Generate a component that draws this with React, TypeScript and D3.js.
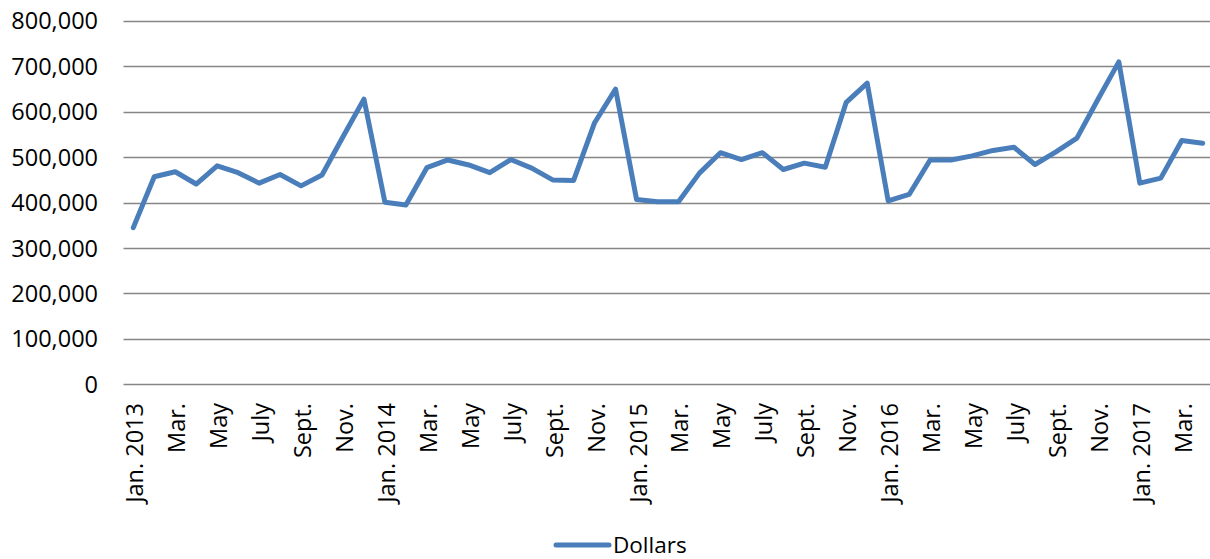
import * as d3 from "d3";
import { useEffect, useRef } from "react";

const monthNames = ["Jan.", "Feb.", "Mar.", "Apr.", "May", "June", "July", "Aug.", "Sept.", "Oct.", "Nov.", "Dec."];
const years = [2013, 2014, 2015, 2016, 2017];
const monthCount = 52; // Jan. 2013 - Apr. 2017

// monthly dollars
const dollars = [
  345000, 457000, 468000, 441000, 481000, 466000, 443000, 462000, 437000, 461000, 545000, 628000,
  401000, 395000, 477000, 494000, 483000, 466000, 495000, 476000, 450000, 449000, 576000, 650000,
  407000, 402000, 402000, 465000, 510000, 495000, 510000, 473000, 487000, 478000, 621000, 663000,
  404000, 418000, 494000, 494000, 503000, 515000, 522000, 484000, 512000, 542000, 627000, 710000,
  443000, 454000, 537000, 531000,
];

const yTicks = [0, 100000, 200000, 300000, 400000, 500000, 600000, 700000, 800000];

const categories = d3.range(monthCount).map((i) => {
  const m = i % 12;
  const y = years[Math.floor(i / 12)];
  return m === 0 ? `${monthNames[m]} ${y}` : monthNames[m];
});

const font = "'Open Sans', sans-serif";
const lineColor = "#4a7ebb";
const gridColor = "#868686";

const W = 1210;
const H = 559;

const App = () => {
  const ref = useRef(null);

  useEffect(() => {
    const svg = d3.select(ref.current);
    svg.selectAll("*").remove();

    // band per month index (labels repeat, so index is the key)
    const x = d3.scaleBand().domain(d3.range(monthCount)).range([122.8, 1213.2]).padding(0);
    const cx = (i) => x(i) + x.bandwidth() / 2;
    const y = d3.scaleLinear().domain([0, 800000]).range([384.3, 21]);

    // gridlines
    svg
      .append("g")
      .selectAll("line")
      .data(yTicks)
      .enter()
      .append("line")
      .attr("x1", 123.5)
      .attr("x2", W)
      .attr("y1", (d) => Math.round(y(d)) + 0.5)
      .attr("y2", (d) => Math.round(y(d)) + 0.5)
      .attr("stroke", gridColor)
      .attr("stroke-width", 1.3);

    // y labels
    svg
      .append("g")
      .selectAll("text")
      .data(yTicks)
      .enter()
      .append("text")
      .attr("x", 98)
      .attr("y", (d) => y(d))
      .attr("dy", "0.36em")
      .attr("text-anchor", "end")
      .attr("font-family", font)
      .attr("font-size", 23.5)
      .attr("fill", "#000")
      .text((d) => d3.format(",")(d));

    // x labels, every other month
    svg
      .append("g")
      .selectAll("text")
      .data(d3.range(0, monthCount, 2))
      .enter()
      .append("text")
      .attr("transform", (i) => `translate(${cx(i) + 1.5},403) rotate(-90)`)
      .attr("dy", "0.36em")
      .attr("text-anchor", "end")
      .attr("font-family", font)
      .attr("font-size", 23.5)
      .attr("fill", "#000")
      .text((i) => categories[i]);

    const line = d3
      .line()
      .x((d, i) => cx(i))
      .y((d) => y(d));

    svg
      .append("path")
      .datum(dollars)
      .attr("d", line)
      .attr("fill", "none")
      .attr("stroke", lineColor)
      .attr("stroke-width", 5)
      .attr("stroke-linejoin", "round")
      .attr("stroke-linecap", "round");

    // legend
    const lg = svg.append("g").attr("transform", "translate(0,545)");
    lg.append("line")
      .attr("x1", 556)
      .attr("x2", 609)
      .attr("y1", 0)
      .attr("y2", 0)
      .attr("stroke", lineColor)
      .attr("stroke-width", 5)
      .attr("stroke-linecap", "round");
    lg.append("text")
      .attr("x", 613)
      .attr("y", 0)
      .attr("dy", "0.36em")
      .attr("font-family", font)
      .attr("font-size", 22.5)
      .attr("fill", "#000")
      .text("Dollars");
  }, []);

  return (
    <svg
      ref={ref}
      width={W}
      height={H}
      style={{ position: "absolute", left: 0, top: 0, background: "white" }}
    ></svg>
  );
};

export default App;
